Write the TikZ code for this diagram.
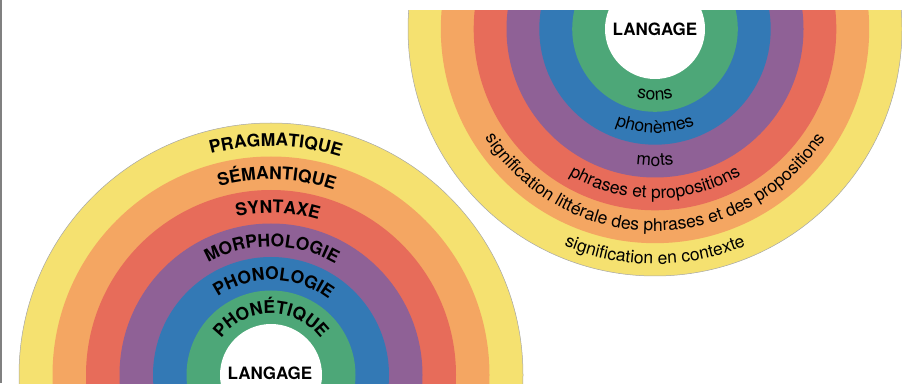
\documentclass[tikz,border=0pt]{standalone}
\usepackage{fontspec}
\setmainfont{TeX Gyre Heros}
\usetikzlibrary{decorations.text}
\definecolor{ryellow}{RGB}{245,225,112}
\definecolor{rorange}{RGB}{244,166,98}
\definecolor{rred}{RGB}{231,108,90}
\definecolor{rpurple}{RGB}{143,97,150}
\definecolor{rblue}{RGB}{51,121,181}
\definecolor{rgreen}{RGB}{77,167,120}

\begin{document}
\begin{tikzpicture}[x=1pt,y=1pt,
    captext/.style={decorate,decoration={text along path,text align=center,
      text={|\bfseries\fontsize{17.5}{20}\selectfont|#1}}},
    smalltext/.style={decorate,decoration={text along path,text align=center,
      text={|\fontsize{17.5}{20}\selectfont|#1}}},
    outline/.style={draw=gray!70,line width=0.5pt}]
  \useasboundingbox (0,0) rectangle (902,383);
  \clip (0,0) rectangle (902,383);
  \fill[gray] (0,0) rectangle (2,383);

  % levels of analysis
  \begin{scope}[shift={(271,8)}]
    \fill[ryellow,outline] (0,0) circle (252);
    \fill[rorange] (0,0) circle (218.5);
    \fill[rred] (0,0) circle (185);
    \fill[rpurple] (0,0) circle (151.5);
    \fill[rblue] (0,0) circle (118);
    \fill[rgreen] (0,0) circle (84.5);
    \fill[white] (0,0) circle (51);
    \node[font=\bfseries\fontsize{17}{20}\selectfont] (langleft) at (-1,2) {LANGAGE};
    \path[captext={PHON{É}TIQUE}] (180:61.5) arc[start angle=180,end angle=0,radius=61.5];
    \path[captext={PHONOLOGIE}] (178.3:95) arc[start angle=178.3,end angle=-1.7,radius=95];
    \path[captext={MORPHOLOGIE}] (179.6:128.5) arc[start angle=179.6,end angle=-0.4,radius=128.5];
    \path[captext={SYNTAXE}] (177.6:162) arc[start angle=177.6,end angle=-2.4,radius=162];
    \path[captext={S{É}MANTIQUE}] (178.3:195.5) arc[start angle=178.3,end angle=-1.7,radius=195.5];
    \path[captext={PRAGMATIQUE}] (178.8:229) arc[start angle=178.8,end angle=-1.2,radius=229];
  \end{scope}

  % units
  \begin{scope}[shift={(655,354)}]
    \clip (-260,-260) rectangle (260,18);
    \fill[ryellow,outline] (0,0) circle (247);
    \fill[rorange] (0,0) circle (214.2);
    \fill[rred] (0,0) circle (181.3);
    \fill[rpurple] (0,0) circle (148.5);
    \fill[rblue] (0,0) circle (115.7);
    \fill[rgreen] (0,0) circle (82.8);
    \fill[white] (0,0) circle (50);
    \node[font=\bfseries\fontsize{17}{20}\selectfont] (langright) at (0,0) {LANGAGE};
    \path[smalltext={sons}] (180:71) arc[start angle=180,end angle=360,radius=71];
    \path[smalltext={phon{è}mes}] (180:104) arc[start angle=180,end angle=360,radius=104];
    \path[smalltext={mots}] (180:137) arc[start angle=180,end angle=360,radius=137];
    \path[smalltext={phrases et propositions}] (180:169.5) arc[start angle=180,end angle=360,radius=169.5];
    \path[smalltext={signification litt{é}rale des phrases et des propositions}] (180:202) arc[start angle=180,end angle=360,radius=202];
    \path[smalltext={signification en contexte}] (180:235) arc[start angle=180,end angle=360,radius=235];
  \end{scope}
\end{tikzpicture}
\end{document}
